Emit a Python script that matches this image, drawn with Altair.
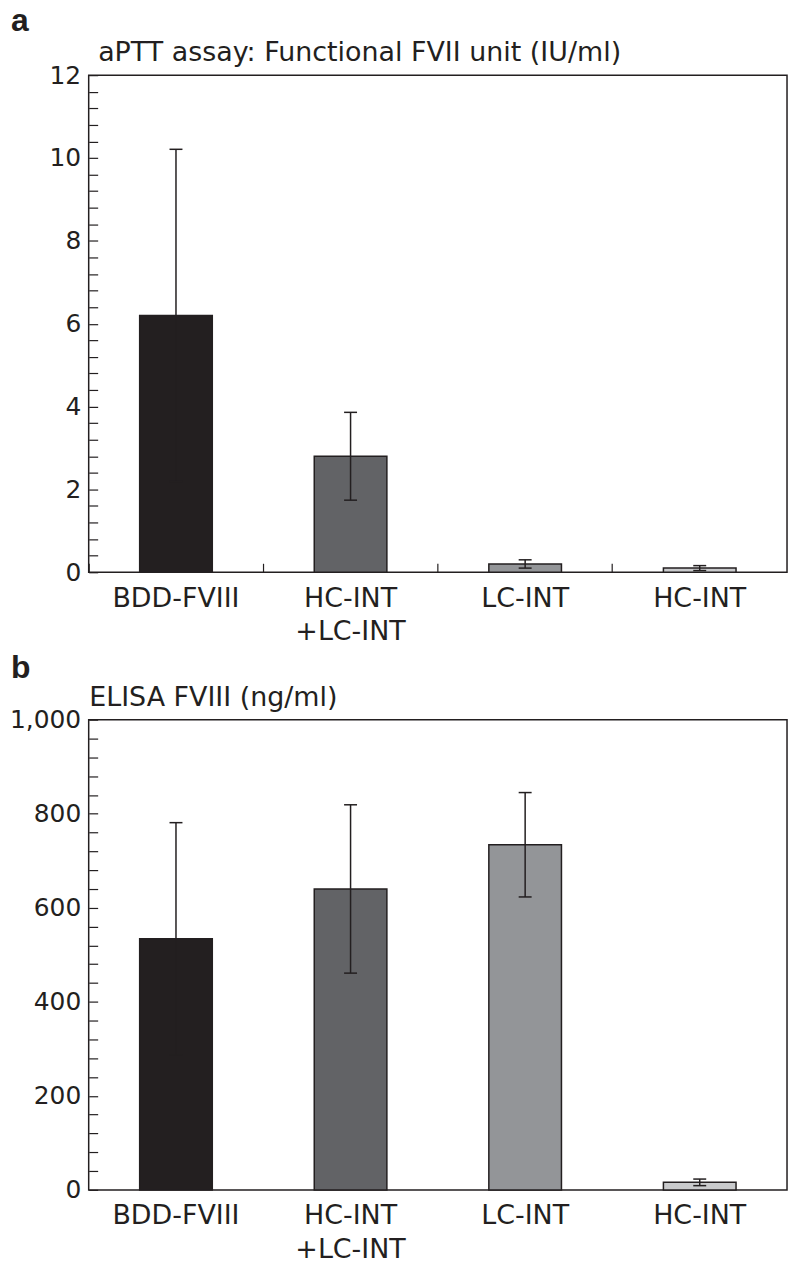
import altair as alt
import pandas as pd

# ---- data ----
categories = ["BDD-FVIII", "HC-INT +LC-INT", "LC-INT", "HC-INT"]
bar_colors = ["#231f20", "#626366", "#939598", "#c9cacc"]

aptt_mean = [6.20, 2.80, 0.20, 0.10]
aptt_sd = [4.01, 1.06, 0.10, 0.06]

elisa_mean = [534, 640, 734, 16]
elisa_sd = [247, 179, 111, 7]

aptt_major = [0, 2, 4, 6, 8, 10, 12]
aptt_minor = [0, 0.4, 0.8, 1.2, 1.6, 2, 2.4, 2.8, 3.2, 3.6, 4, 4.4, 4.8, 5.2,
              5.6, 6, 6.4, 6.8, 7.2, 7.6, 8, 8.4, 8.8, 9.2, 9.6, 10, 10.4,
              10.8, 11.2, 11.6, 12]
elisa_major = [0, 200, 400, 600, 800, 1000]
elisa_minor = [0, 40, 80, 120, 160, 200, 240, 280, 320, 360, 400, 440, 480,
               520, 560, 600, 640, 680, 720, 760, 800, 840, 880, 920, 960, 1000]

INK = "#231f20"
FONT = "DejaVu Sans"
LETTER_FONT = "Liberation Sans"
FS_Y = 25
FS_X = 27
FS_T = 27
PLOT_W = 701


def panel(mean, sd, ymax, major, minor, fmt, letter, title, title_x, title_y,
          height, sep_ticks, letter_offset, xlabel_pad):
    df = pd.DataFrame({
        "cat": categories,
        "mean": mean,
        "lo": [m - s for m, s in zip(mean, sd)],
        "hi": [m + s for m, s in zip(mean, sd)],
    })
    ysc = alt.Scale(domain=[0, ymax], nice=False, zero=True)
    xsc = alt.Scale(domain=categories, paddingInner=0, paddingOuter=0)
    base = alt.Chart(df)

    bars = base.mark_bar(width=alt.RelativeBandSize(0.416), stroke=INK,
                         strokeWidth=1.5).encode(
        x=alt.X("cat:N", scale=xsc, sort=categories, title=None,
                axis=alt.Axis(orient="bottom", labelExpr="split(datum.label, ' ')",
                              labelAngle=0, labelFontSize=FS_X, labelPadding=xlabel_pad,
                              labelLineHeight=34, labelColor=INK, labelFont=FONT,
                              ticks=False, domain=False, grid=False)),
        y=alt.Y("mean:Q", scale=ysc, title=title,
                axis=alt.Axis(orient="left", values=major, format=fmt,
                              ticks=False, domain=False, grid=False,
                              labelFontSize=FS_Y, labelPadding=8, labelColor=INK,
                              labelFont=FONT, titleFont=FONT, titleFontSize=FS_T,
                              titleFontWeight="normal", titleColor=INK,
                              titleAngle=0, titleAlign="left",
                              titleBaseline="alphabetic", titleX=title_x,
                              titleY=title_y)),
        color=alt.Color("cat:N", scale=alt.Scale(domain=categories, range=bar_colors),
                        legend=None),
    )

    if sep_ticks:
        x_tick_axis = alt.Axis(orient="bottom", labels=False, ticks=True, tickSize=9,
                               offset=-9, bandPosition=0, domain=False, grid=False,
                               tickColor=INK, tickWidth=1.2, title=None)
    else:
        x_tick_axis = None

    rules = base.mark_rule(color=INK, strokeWidth=1.5).encode(
        x=alt.X("cat:N", scale=xsc, sort=categories, title=None, axis=x_tick_axis),
        y=alt.Y("lo:Q", scale=ysc, axis=None),
        y2="hi:Q",
    )
    caps_hi = base.mark_tick(color=INK, size=13, thickness=1.5, opacity=1).encode(
        x=alt.X("cat:N", scale=xsc, sort=categories, axis=None),
        y=alt.Y("hi:Q", scale=ysc, title=None,
                axis=alt.Axis(orient="left", values=minor, labels=False, ticks=True,
                              tickSize=9, offset=-9, domain=False, grid=False,
                              tickColor=INK, tickWidth=1.2, title=None)),
    )
    caps_lo = base.mark_tick(color=INK, size=13, thickness=1.5, opacity=1).encode(
        x=alt.X("cat:N", scale=xsc, sort=categories, axis=None),
        y=alt.Y("lo:Q", scale=ysc, axis=None),
    )
    return alt.layer(bars, rules, caps_hi, caps_lo).resolve_axis(
        x="independent", y="independent"
    ).properties(
        width=PLOT_W, height=height,
        title=alt.TitleParams(letter, anchor="start", frame="group", fontSize=32,
                              fontWeight="bold", font=LETTER_FONT, color=INK, dx=-78,
                              baseline="alphabetic", offset=letter_offset),
    )


pa = panel(aptt_mean, aptt_sd, 12, aptt_major, aptt_minor, "d", "a",
           "aPTT assay: Functional FVII unit (IU/ml)", 9, -15, 499, True, -25, 13)
pb = panel(elisa_mean, elisa_sd, 1000, elisa_major, elisa_minor, ",d", "b",
           "ELISA FVIII (ng/ml)", 0, -14, 472, False, -26, 13)

chart = alt.vconcat(pa, pb, spacing=5).properties(
    padding={"left": 0, "top": -6, "right": 4, "bottom": 0}
).configure_view(stroke=INK, strokeWidth=1.5)

chart.save("out.html", embed_options={"renderer": "svg", "actions": False})
